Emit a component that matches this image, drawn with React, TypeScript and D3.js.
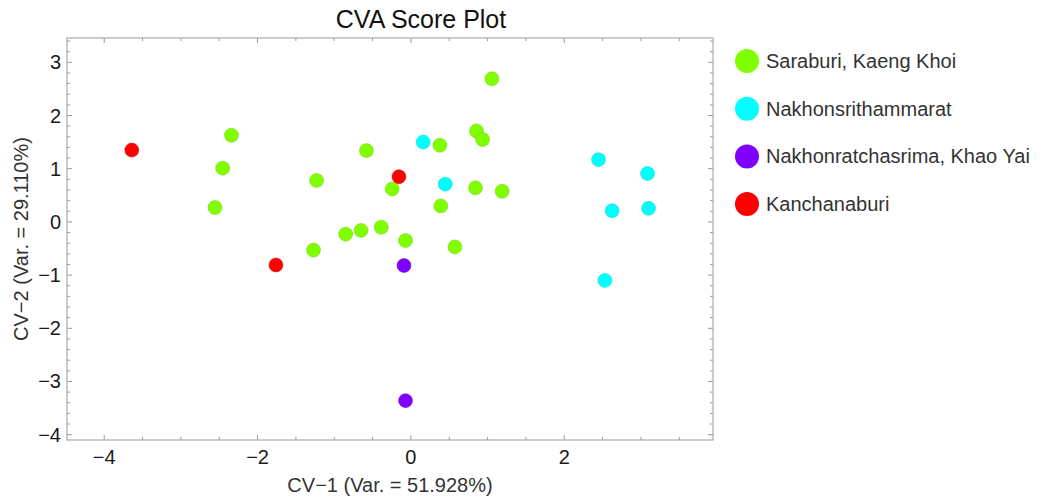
import React from "react";
import * as d3 from "d3";

const seriesNames = ["Saraburi, Kaeng Khoi", "Nakhonsrithammarat", "Nakhonratchasrima, Khao Yai", "Kanchanaburi"];
const seriesColors = ["#80ff00", "#00ffff", "#8000ff", "#ff0000"];

const saraburi: [number, number][] = [
  [-2.34, 1.63], [-2.455, 1.01], [-2.555, 0.27], [-1.23, 0.78], [-0.58, 1.34],
  [-0.244, 0.62], [-0.85, -0.23], [-0.65, -0.16], [-0.387, -0.1], [-0.07, -0.35],
  [-1.27, -0.53], [1.056, 2.69], [0.378, 1.44], [0.856, 1.71], [0.935, 1.55],
  [0.843, 0.64], [1.19, 0.575], [0.39, 0.3], [0.574, -0.47],
];
const nakhonsri: [number, number][] = [
  [0.16, 1.5], [0.448, 0.71], [2.447, 1.17], [3.086, 0.91], [2.625, 0.21], [3.1, 0.255], [2.53, -1.1],
];
const khaoYai: [number, number][] = [
  [-0.09, -0.82], [-0.07, -3.36],
];
const kanchanaburi: [number, number][] = [
  [-3.64, 1.35], [-1.76, -0.81], [-0.156, 0.85],
];

const xMajorTicks = [-4, -2, 0, 2];
const yMajorTicks = [-4, -3, -2, -1, 0, 1, 2, 3];

const W = 1044;
const H = 502;
const L = 67, R = 713, T = 38, B = 440;
const FONT = "'Liberation Sans', Arial, Helvetica, sans-serif";

export default function App() {
  const x = d3.scaleLinear().domain([-4.485, 3.94]).range([L, R]);
  const y = d3.scaleLinear().domain([-4.1, 3.457]).range([B, T]);
  const series = [saraburi, nakhonsri, khaoYai, kanchanaburi];

  const xMinor = d3.range(-4.5, 4.01, 0.5).filter(v => x(v) >= L - 0.5 && x(v) <= R + 0.5);
  const yMinor = d3.range(-4.2, 3.6, 0.2).map(v => Math.round(v * 10) / 10).filter(v => y(v) >= T - 0.5 && y(v) <= B + 0.5);
  const isMajorX = (v: number) => xMajorTicks.some(m => Math.abs(m - v) < 1e-6);
  const isMajorY = (v: number) => yMajorTicks.some(m => Math.abs(m - v) < 1e-6);
  const tickColor = "#999";

  return (
    <svg width={W} height={H} style={{ position: "absolute", left: 0, top: 0, background: "#fff" }} fontFamily={FONT}>
      <rect x={0} y={0} width={W} height={H} fill="#fff" />
      <text x={421} y={28} textAnchor="middle" fontSize={25} fill="#111">CVA Score Plot</text>

      {/* ticks */}
      {xMinor.map((v, i) => {
        const len = isMajorX(v) ? 5 : 3;
        return (
          <g key={"xt" + i} stroke={tickColor} strokeWidth={1}>
            <line x1={x(v)} x2={x(v)} y1={B} y2={B - len} />
            <line x1={x(v)} x2={x(v)} y1={T} y2={T + len} />
          </g>
        );
      })}
      {yMinor.map((v, i) => {
        const len = isMajorY(v) ? 5 : 3;
        return (
          <g key={"yt" + i} stroke={tickColor} strokeWidth={1}>
            <line x1={L} x2={L + len} y1={y(v)} y2={y(v)} />
            <line x1={R} x2={R - len} y1={y(v)} y2={y(v)} />
          </g>
        );
      })}
      <rect x={L} y={T} width={R - L} height={B - T} fill="none" stroke="#aaa" strokeWidth={1.2} />

      {/* tick labels */}
      {xMajorTicks.map(v => (
        <text key={"xl" + v} x={x(v)} y={464} textAnchor="middle" fontSize={20} fill="#1a1a1a">
          {v < 0 ? "\u2212" + Math.abs(v) : String(v)}
        </text>
      ))}
      {yMajorTicks.map(v => (
        <text key={"yl" + v} x={61} y={y(v)} dy="0.35em" textAnchor="end" fontSize={20} fill="#1a1a1a">
          {v < 0 ? "\u2212" + Math.abs(v) : String(v)}
        </text>
      ))}

      {/* axis labels */}
      <text x={(L + R) / 2} y={492} textAnchor="middle" fontSize={20} fill="#333">CV{"\u2212"}1 (Var. = 51.928%)</text>
      <text transform={`translate(28, ${(T + B) / 2}) rotate(-90)`} textAnchor="middle" fontSize={20} fill="#333">CV{"\u2212"}2 (Var. = 29.110%)</text>

      {/* points */}
      {series.map((pts, si) => (
        <g key={"s" + si}>
          {pts.map((p, i) => (
            <circle key={i} cx={x(p[0])} cy={y(p[1])} r={7} fill={seriesColors[si]}
              stroke={d3.color(seriesColors[si])!.darker(0.6).formatHex()} strokeOpacity={0.45} strokeWidth={1} />
          ))}
        </g>
      ))}

      {/* legend */}
      {seriesNames.map((name, i) => {
        const cy = 61 + i * 47.7;
        return (
          <g key={"lg" + i}>
            <circle cx={747} cy={cy} r={12} fill={seriesColors[i]} />
            <text x={766} y={cy} dy="0.35em" fontSize={20} fill="#333">{name}</text>
          </g>
        );
      })}
    </svg>
  );
}
